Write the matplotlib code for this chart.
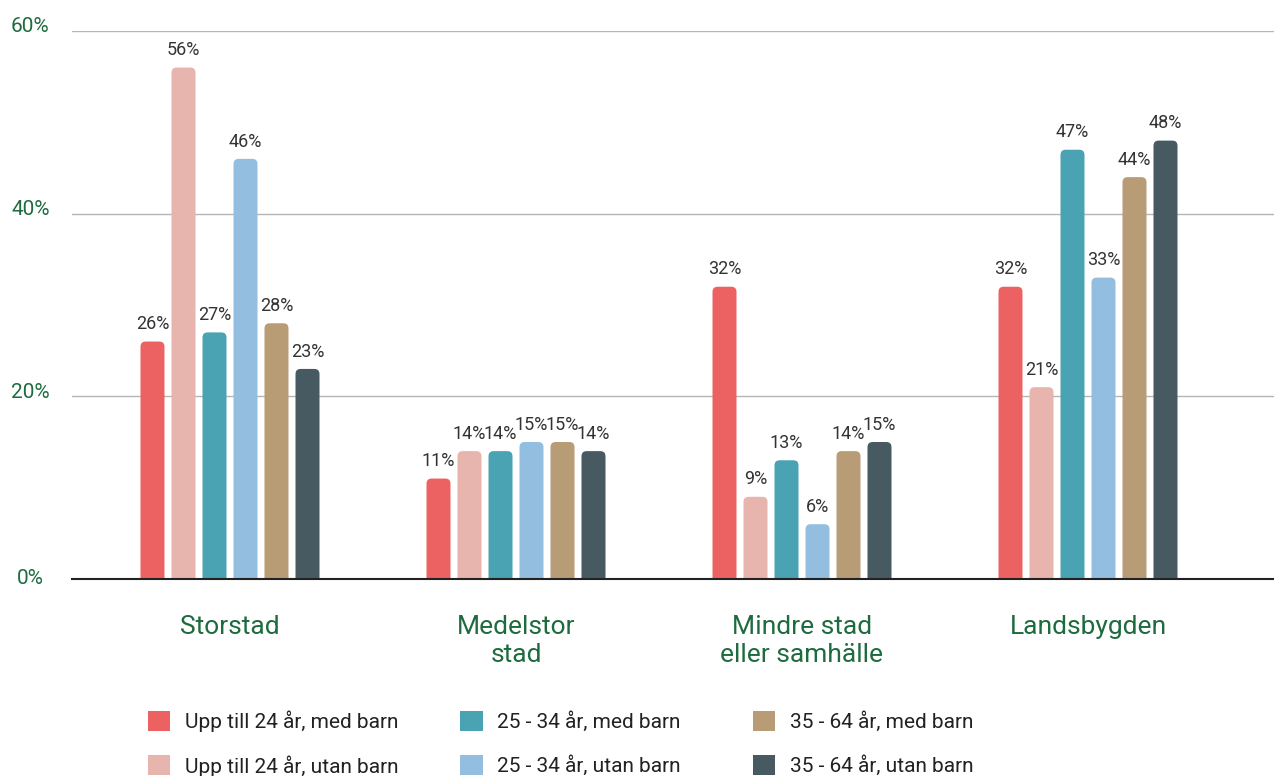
import matplotlib.pyplot as plt
from matplotlib.patches import FancyBboxPatch, Patch
import numpy as np

plt.rcParams['font.family'] = ['Roboto', 'DejaVu Sans']

# Data
kategorier = ['Storstad', 'Medelstor\nstad', 'Mindre stad\neller samhälle', 'Landsbygden']
grupper = ['Upp till 24 år, med barn', 'Upp till 24 år, utan barn',
           '25 - 34 år, med barn', '25 - 34 år, utan barn',
           '35 - 64 år, med barn', '35 - 64 år, utan barn']
varden = [
    [26, 11, 32, 32],
    [56, 14, 9, 21],
    [27, 14, 13, 47],
    [46, 15, 6, 33],
    [28, 15, 14, 44],
    [23, 14, 15, 48],
]
farger = ['#EC6262', '#E8B4AE', '#4AA3B3', '#93BEDF', '#B89C75', '#475A62']
yticks = [0, 20, 40, 60]

GRON = '#1E6B3F'

fig = plt.figure(figsize=(12.74, 7.76), dpi=100)
ax = fig.add_axes([72 / 1274, 1 - 579 / 776, 1 - 72 / 1274, 548 / 776])

x = np.arange(len(kategorier))
steg = 31 / 286
bredd = 24 / 286
ax.set_xlim(-158 / 286, 1044 / 286)
ax.set_ylim(0, 60)

# aspect for rounded corners: data units per pixel in y vs x
aspekt = (60 / 548) / (1 / 286)

for j, (namn, vals) in enumerate(zip(grupper, varden)):
    pos = x + (j - 2.5) * steg
    staplar = ax.bar(pos, vals, bredd, color=farger[j], label=namn)
    for rect, v in zip(staplar, vals):
        rect.set_visible(False)
        p = FancyBboxPatch((rect.get_x(), -2), rect.get_width(), v + 2,
                           boxstyle='round,pad=0,rounding_size=0.018',
                           mutation_aspect=aspekt,
                           facecolor=farger[j], edgecolor='none', zorder=3)
        ax.add_patch(p)
        ax.annotate(f'{v}%', (rect.get_x() + rect.get_width() / 2, v),
                    xytext=(0, 6), textcoords='offset points',
                    ha='center', va='bottom', fontsize=13, color='#333333',
                    zorder=4)

# y labels, drawn a little above their gridlines like the original
ax.set_yticks(yticks)
ax.set_yticklabels([])
ax.tick_params(axis='y', length=0)
for t in yticks:
    ax.annotate(f'{t}%', (0, t), xycoords=('axes fraction', 'data'),
                xytext=(-30, 3 if t else 0), textcoords='offset points',
                ha='center', va='center', fontsize=15, color=GRON)

ax.set_xticks(x)
ax.set_xticklabels(kategorier, color=GRON, fontsize=19, linespacing=1.2)
ax.tick_params(axis='x', length=0, pad=26)

ax.grid(axis='y', color='#B5B5B5', linewidth=1, zorder=0)
ax.set_axisbelow(True)
for s in ['top', 'right', 'left']:
    ax.spines[s].set_visible(False)
ax.spines['bottom'].set_color('#222222')
ax.spines['bottom'].set_linewidth(1.5)
ax.spines['bottom'].set_zorder(5)

# Legend: three columns at fixed positions
kolumn_x = [147, 459, 752]
for k in range(3):
    handtag = [Patch(facecolor=farger[2 * k + r], edgecolor='none') for r in range(2)]
    fig.legend(handtag, grupper[2 * k:2 * k + 2], loc='upper left',
               bbox_to_anchor=((kolumn_x[k] - 14) / 1274, 1 - 696 / 776),
               frameon=False, fontsize=15, handlelength=1.1, handleheight=1.1,
               handletextpad=0.7, labelspacing=1.1, borderpad=0.2,
               labelcolor='#222222')

fig.savefig('out.png', dpi=100)
